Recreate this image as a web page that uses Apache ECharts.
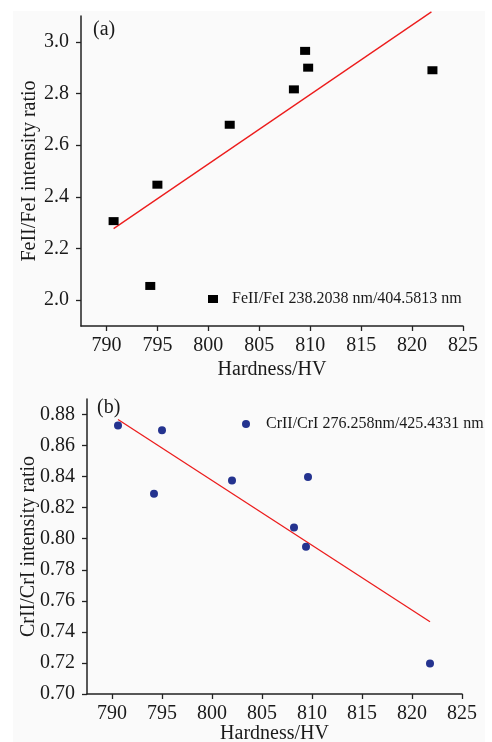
<!DOCTYPE html>
<html>
<head>
<meta charset="utf-8">
<script src="https://cdn.jsdelivr.net/npm/echarts@6/dist/echarts.min.js"></script>
<style>
  html, body { margin: 0; padding: 0; background: #fff; }
  #chart { width: 492px; height: 742px; }
</style>
</head>
<body>
<div id="chart"></div>
<script>
// (a) FeII/FeI
var feHardness = [790.7, 794.3, 795.0, 802.1, 808.4, 809.5, 809.8, 822.0];
var feRatio    = [2.306, 2.055, 2.447, 2.679, 2.816, 2.965, 2.900, 2.890];
var feFitX = [790.7, 821.9];
var feFitY = [2.277, 3.116];

// (b) CrII/CrI
var crHardness = [790.6, 794.2, 795.0, 802.0, 808.2, 809.4, 809.6, 821.8];
var crRatio    = [0.8729, 0.8289, 0.8699, 0.8375, 0.8073, 0.7948, 0.8398, 0.7197];
var crFitX = [790.6, 821.8];
var crFitY = [0.8768, 0.7465];

var xTicks   = [790, 795, 800, 805, 810, 815, 820, 825];
var feYTicks = [2.0, 2.2, 2.4, 2.6, 2.8, 3.0];
var crYTicks = [0.70, 0.72, 0.74, 0.76, 0.78, 0.80, 0.82, 0.84, 0.86, 0.88];

var font = "'Liberation Serif', 'Times New Roman', serif";

function pairs(xs, ys){
	return xs.map(function(x, i){ return [x, ys[i]]; });
}

function xAxisOpt(gridIndex, gap){
	return {
		type: 'value', gridIndex: gridIndex,
		min: 787.5, max: 825,
		name: 'Hardness/HV', nameLocation: 'middle', nameGap: gap, nameMoveOverlap: false,
		nameTextStyle: { fontFamily: font, fontSize: 20, color: '#1a1a1a' },
		axisLine: { lineStyle: { color: '#222', width: 1.5 } },
		axisTick: { show: true, length: 5, customValues: xTicks, lineStyle: { color: '#222', width: 1.3 } },
		axisLabel: { customValues: xTicks, margin: 10, fontFamily: font, fontSize: 20, color: '#1a1a1a' },
		splitLine: { show: false }
	};
}

function yAxisOpt(gridIndex, min, max, ticks, digits, name, gap){
	return {
		type: 'value', gridIndex: gridIndex,
		min: min, max: max,
		name: name, nameLocation: 'middle', nameGap: gap, nameMoveOverlap: false,
		nameTextStyle: { fontFamily: font, fontSize: 20, color: '#1a1a1a' },
		axisLine: { show: true, lineStyle: { color: '#222', width: 1.5 } },
		axisTick: { show: true, length: 5, customValues: ticks, lineStyle: { color: '#222', width: 1.3 } },
		axisLabel: {
			customValues: ticks, margin: 12, fontFamily: font, fontSize: 20, color: '#1a1a1a',
			formatter: function(v){ return Number(v).toFixed(digits); }
		},
		splitLine: { show: false }
	};
}

var option = {
	animation: false,
	backgroundColor: '#fff',
	graphic: [
		{ type: 'rect', shape: { x: 13, y: 11, width: 472, height: 731 }, style: { fill: '#fafafa' }, z: -10 },
		{ type: 'text', left: 93, top: 20, style: { text: '(a)', font: '20px ' + font, fill: '#1a1a1a' } },
		{ type: 'text', left: 97, top: 398, style: { text: '(b)', font: '20px ' + font, fill: '#1a1a1a' } }
	],
	legend: [
		{
			data: ['FeII/FeI 238.2038 nm/404.5813 nm'],
			left: 208, top: 291, padding: 0,
			itemWidth: 10, itemHeight: 8,
			itemStyle: { opacity: 1 },
			textStyle: { fontFamily: font, fontSize: 16, color: '#1a1a1a', padding: [0, 0, 0, 9] }
		},
		{
			data: ['CrII/CrI 276.258nm/425.4331 nm'],
			left: 242, top: 416, padding: 0,
			itemWidth: 8, itemHeight: 8,
			itemStyle: { opacity: 1 },
			textStyle: { fontFamily: font, fontSize: 16, color: '#1a1a1a', padding: [0, 0, 0, 11] }
		}
	],
	grid: [
		{ left: 81, top: 16, width: 382, height: 310, outerBoundsMode: 'none' },
		{ left: 87, top: 399, width: 375, height: 295, outerBoundsMode: 'none' }
	],
	xAxis: [ xAxisOpt(0, 34), xAxisOpt(1, 30) ],
	yAxis: [
		yAxisOpt(0, 1.9, 3.1, feYTicks, 1, 'FeII/FeI intensity ratio', 41),
		yAxisOpt(1, 0.70, 0.89, crYTicks, 2, 'CrII/CrI intensity ratio', 48)
	],
	series: [
		{
			name: 'FeII/FeI 238.2038 nm/404.5813 nm',
			type: 'scatter', xAxisIndex: 0, yAxisIndex: 0,
			symbol: 'rect', symbolSize: [10, 8],
			itemStyle: { color: '#000', opacity: 1 },
			data: pairs(feHardness, feRatio), z: 3
		},
		{
			type: 'line', xAxisIndex: 0, yAxisIndex: 0,
			symbol: 'none', clip: false, silent: true,
			lineStyle: { color: '#ec1c1c', width: 1.3 },
			data: pairs(feFitX, feFitY), z: 2
		},
		{
			name: 'CrII/CrI 276.258nm/425.4331 nm',
			type: 'scatter', xAxisIndex: 1, yAxisIndex: 1,
			symbol: 'circle', symbolSize: 8,
			itemStyle: { color: '#24338f', opacity: 1 },
			data: pairs(crHardness, crRatio), z: 3
		},
		{
			type: 'line', xAxisIndex: 1, yAxisIndex: 1,
			symbol: 'none', clip: false, silent: true,
			lineStyle: { color: '#ec1c1c', width: 1.3 },
			data: pairs(crFitX, crFitY), z: 2
		}
	]
};

var myChart = echarts.init(document.getElementById('chart'));
myChart.setOption(option);
</script>
</body>
</html>
